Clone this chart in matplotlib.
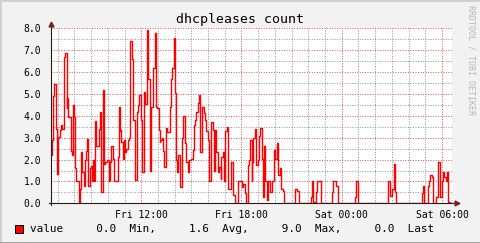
import matplotlib
matplotlib.use('Agg')
import matplotlib.pyplot as plt
import matplotlib.dates as mdates
from matplotlib.lines import Line2D
from matplotlib.patches import Rectangle
import numpy as np
import pandas as pd

# graph window: Fri 06:36 -> Sat 06:36
START = pd.Timestamp('2013-03-01 06:36')
END = START + pd.Timedelta(minutes=1440)

# minutes after START where the value changes, and the value from then on
minutes = [
    0, 4, 7, 11, 18, 22, 23, 25, 34, 36,
    40, 47, 50, 56, 58, 61, 72, 76, 79, 83,
    86, 90, 101, 104, 108, 112, 119, 122, 126, 130,
    133, 140, 144, 148, 151, 155, 158, 162, 173, 176,
    180, 187, 191, 194, 200, 209, 213, 216, 221, 228,
    240, 245, 247, 251, 253, 257, 262, 264, 269, 276,
    281, 285, 291, 295, 300, 309, 313, 317, 323, 328,
    334, 338, 345, 350, 355, 357, 360, 367, 372, 377,
    378, 382, 389, 391, 393, 398, 401, 407, 412, 418,
    426, 431, 436, 440, 446, 450, 452, 455, 462, 472,
    475, 480, 486, 491, 497, 504, 511, 515, 518, 522,
    527, 532, 536, 541, 548, 553, 558, 563, 568, 573,
    580, 584, 589, 594, 599, 604, 609, 612, 617, 623,
    626, 631, 634, 645, 652, 655, 659, 672, 687, 691,
    696, 701, 706, 710, 715, 720, 723, 727, 732, 737,
    742, 746, 752, 759, 761, 766, 770, 775, 781, 786,
    792, 802, 806, 811, 816, 822, 827, 832, 836, 877,
    882, 889, 932, 937, 942, 951, 956, 971, 1009, 1014,
    1025, 1030, 1090, 1094, 1102, 1210, 1219, 1225, 1230, 1235,
    1240, 1331, 1336, 1340, 1353, 1357, 1362, 1367, 1372, 1383,
    1388, 1398, 1403, 1408, 1412, 1417, 1422, 1427, 1432,
]
leases = [
    2.2, 2.9, 4.9, 5.45, 3.4, 3.3, 1.35, 3.05, 3.35, 3.6,
    3.4, 6.7, 6.9, 4.35, 4.8, 3.95, 2.4, 2.2, 4.5, 3.95,
    1.6, 1.0, 0.0, 0.65, 2.35, 1.45, 0.8, 2.0, 2.4, 2.95,
    0.8, 1.6, 1.7, 1.0, 2.0, 1.0, 3.75, 2.6, 3.4, 4.2,
    0.5, 5.2, 1.8, 1.9, 2.0, 1.0, 1.9, 2.6, 2.05, 1.0,
    2.1, 4.4, 3.3, 3.35, 2.8, 2.05, 2.9, 2.35, 2.5, 2.9,
    3.0, 7.45, 6.6, 3.8, 1.05, 4.2, 4.5, 4.95, 3.8, 1.45,
    5.1, 4.55, 7.95, 5.7, 5.35, 1.5, 4.4, 6.2, 7.8, 5.7,
    4.4, 4.35, 3.35, 2.8, 2.9, 3.0, 2.4, 1.65, 3.45, 3.25,
    4.4, 5.7, 6.2, 7.55, 5.05, 2.0, 1.45, 2.2, 0.75, 3.0,
    4.0, 2.75, 1.9, 1.45, 2.0, 2.05, 2.45, 3.6, 3.8, 4.2,
    4.6, 4.95, 2.35, 4.4, 4.15, 3.8, 3.3, 2.9, 1.0, 3.7,
    3.35, 1.5, 3.35, 2.35, 1.45, 1.65, 1.1, 2.1, 2.35, 1.0,
    3.3, 3.5, 0.67, 1.9, 1.0, 0.4, 0.0, 1.0, 0.75, 0.9,
    0.45, 0.0, 1.75, 2.0, 2.9, 1.0, 1.9, 3.0, 3.4, 1.75,
    2.0, 3.1, 3.45, 2.05, 0.3, 2.6, 1.0, 0.15, 1.0, 0.5,
    1.0, 2.45, 2.05, 2.75, 1.3, 1.6, 0.67, 0.55, 0.0, 0.67,
    0.55, 0.0, 0.3, 1.0, 0.05, 0.5, 1.0, 0.0, 0.5, 1.0,
    0.8, 0.0, 0.3, 1.0, 0.0, 1.0, 0.35, 0.65, 1.8, 0.5,
    0.0, 0.45, 0.8, 0.0, 0.8, 1.0, 1.3, 1.2, 0.0, 0.3,
    1.87, 0.3, 1.0, 1.45, 1.2, 1.0, 1.45, 0.05, 0.0,
]

legend_label = 'value'
stat_names = ['Min,', 'Avg,', 'Max,', 'Last']
stat_values = [0.0, 1.6, 9.0, 0.0]

MONO = 'DejaVu Sans Mono'
BACK = '#f2f2f2'
GRID = (0.56, 0.56, 0.56, 0.35)
MGRID = (0.87, 0.31, 0.31, 0.4)
ARROW = (0.50, 0.12, 0.12)
AXIS = (0.12, 0.12, 0.12)

times = START + pd.to_timedelta(minutes, unit='min')
times = list(times) + [END]
vals = leases + [leases[-1]]

fig = plt.figure(figsize=(4.81, 2.43), dpi=100, facecolor=BACK)
ax = fig.add_axes([51 / 481, 1 - 203.3 / 243, 401 / 481, 174.8 / 243])
ax.set_facecolor('white')

ax.step(times, vals, where='post', color='#ff0000', lw=1.0, zorder=3)

ax.set_xlim(START, END)
ax.set_ylim(0, 8)

ax.set_yticks(np.arange(0, 8.01, 1.0))
ax.set_yticks(np.arange(0, 8.01, 0.5), minor=True)
ax.yaxis.set_major_formatter(matplotlib.ticker.FormatStrFormatter('%.1f'))
ax.xaxis.set_major_locator(mdates.HourLocator(byhour=[0, 6, 12, 18]))
ax.xaxis.set_minor_locator(mdates.HourLocator())
ax.xaxis.set_major_formatter(mdates.DateFormatter('%a %H:%M'))

ax.grid(which='minor', color=GRID, lw=0.7, linestyle=(0, (1, 1.6)))
ax.grid(which='major', color=MGRID, lw=0.7, linestyle=(0, (1, 1.6)))
ax.set_axisbelow(True)

ax.tick_params(which='both', length=0)
ax.tick_params(axis='y', pad=7, labelsize=7)
ax.tick_params(axis='x', pad=5, labelsize=7)
for lab in ax.get_xticklabels() + ax.get_yticklabels():
    lab.set_family(MONO)

for sp in ax.spines.values():
    sp.set_visible(False)

# axes with arrows, rrdtool style
ax.plot([0, 0], [-0.01, 1.02], transform=ax.transAxes, color=AXIS, lw=0.8,
        clip_on=False, zorder=4)
ax.plot([-0.005, 1.01], [0, 0], transform=ax.transAxes, color=AXIS, lw=0.8,
        clip_on=False, zorder=4)
ax.plot([0], [1.025], transform=ax.transAxes, marker='^', ms=3.5, color=ARROW,
        clip_on=False, zorder=5)
ax.plot([1.012], [0], transform=ax.transAxes, marker='>', ms=3.5, color=ARROW,
        clip_on=False, zorder=5)

fig.text(0.5, 1 - 19 / 243, 'dhcpleases count', ha='center', va='center',
         fontsize=9.5, family=MONO)
fig.text(471.5 / 481, 1 - 60 / 243, 'RRDTOOL / TOBI OETIKER', rotation=270,
         ha='center', va='center', fontsize=6, family=MONO, color='#b8b8b8')

# legend line
fig.patches.append(Rectangle((15 / 481, 10 / 243), 8 / 481, 8 / 243,
                             transform=fig.transFigure, facecolor='#ff0000',
                             edgecolor='black', lw=0.7))
legend_text = legend_label + '   '
for name, v in zip(stat_names, stat_values):
    legend_text += ' %4.1f  %s   ' % (v, name)
fig.text(30 / 481, 1 - 229 / 243, legend_text.rstrip(), ha='left', va='center',
         fontsize=7.9, family=MONO)

# frame shading
fig.add_artist(Line2D([0, 1], [1, 1], transform=fig.transFigure, color='#cfcfcf', lw=2))
fig.add_artist(Line2D([0, 0], [0, 1], transform=fig.transFigure, color='#cfcfcf', lw=2))
fig.add_artist(Line2D([0, 1], [0, 0], transform=fig.transFigure, color='#9e9e9e', lw=2))
fig.add_artist(Line2D([1, 1], [0, 1], transform=fig.transFigure, color='#9e9e9e', lw=2))

fig.savefig('out.png', dpi=100, facecolor=BACK)
